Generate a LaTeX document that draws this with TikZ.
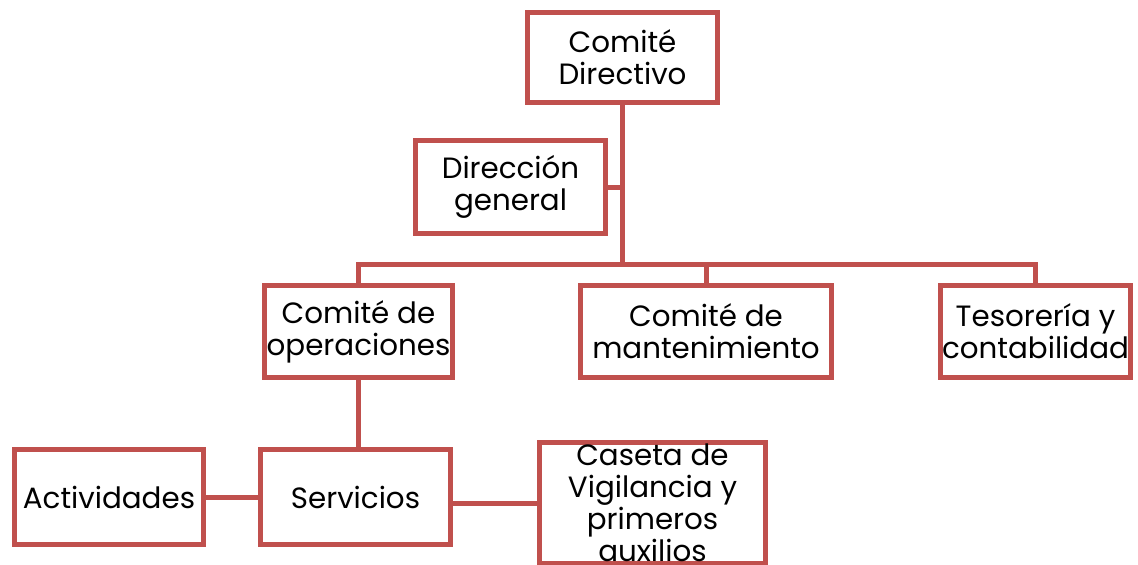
\documentclass[tikz,border=0pt]{standalone}
\usepackage{fontspec}
\setmainfont{Poppins}
\usetikzlibrary{positioning}
\definecolor{cajaroja}{HTML}{C0504D}

\tikzset{
  caja/.style={draw=cajaroja, line width=3.75pt, fill=white, align=center,
    inner sep=0pt, minimum width=142.5pt, minimum height=69pt,
    font=\fontsize{22}{24}\selectfont},
  linea/.style={draw=cajaroja, line width=3.75pt}
}

\begin{document}
\begin{tikzpicture}[x=0.75pt, y=-0.75pt]
	%%%	Marco
	\useasboundingbox (0,0) rectangle (1138,564);
	%%%	Cajas
	\node[caja, minimum height=67.5pt] (cd) at (622.5,57.5) {Comité\\Directivo};
	\node[caja, minimum height=69.75pt] (dg) at (510.5,187) {Dirección\\general};
	\node[caja, minimum width=141pt] (co) at (358.5,331.5) {Comité de\\operaciones};
	\node[caja, minimum width=188.25pt] (cm) at (706,331.5) {Comité de\\mantenimiento};
	\node[caja] (tc) at (1035.5,331.5) {Tesorería y\\contabilidad};
	\node[caja, minimum width=141.75pt, minimum height=71.25pt] (act) at (109,497) {Actividades};
	\node[caja, minimum height=71.25pt] (srv) at (355.5,497) {Servicios};
	\node[caja, minimum width=169.5pt, minimum height=90.75pt] (cv) at (652.5,503) {Caseta de\\Vigilancia y\\primeros\\auxilios};
	\coordinate (bar) at (622.5,264);
	%%%	Conectores
	\draw[linea] (cd.south) -- (bar);
	\draw[linea] (dg.east) -- (dg.east -| cd.south);
	\draw[linea] (co.north) |- (bar) -| (tc.north);
	\draw[linea] (cm.north) -- (cm.north |- bar);
	\draw[linea] (co.south) -- (co.south |- srv.north);
	\draw[linea] (act.east) -- (srv.west);
	\draw[linea] (cv.west -| srv.east) -- (cv.west);
\end{tikzpicture}
\end{document}
